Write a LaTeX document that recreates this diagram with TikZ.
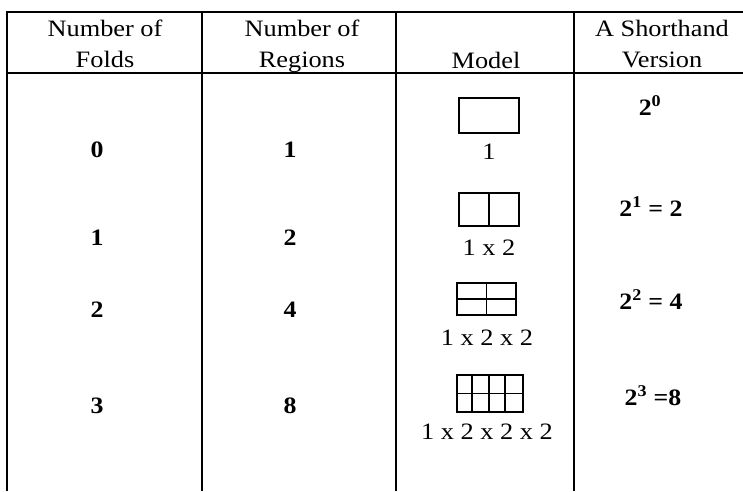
\documentclass[tikz,border=0pt]{standalone}
\usepackage{fontspec}
\setmainfont[FakeStretch=1.12]{Liberation Serif}
\newfontfamily\numfont[FakeStretch=1.1]{Liberation Serif Bold}

\begin{document}
\begin{tikzpicture}[x=1pt,y=-1pt]
      \tikzstyle{rule}=[draw=black,line width=2.6pt];
      \tikzstyle{head}=[align=center,inner sep=0pt,font=\fontsize{23.5}{31}\selectfont];
      \tikzstyle{num}=[inner sep=0pt,font=\numfont\fontsize{23.5}{27}\selectfont];
      \tikzstyle{lab}=[inner sep=0pt,font=\fontsize{23.5}{27}\selectfont];
      \tikzstyle{box}=[draw=black,line width=2.8pt,inner sep=0pt];
      \tikzstyle{split}=[draw=black,line width=1.8pt];

      \useasboundingbox (0,0) rectangle (743,491);

      % table rules
      \path[rule] (743,12) -- (7,12) -- (7,491);
      \path[rule] (7,73) -- (743,73);
      \foreach \x in {202,396,574}
        \path[rule] (\x,12) -- (\x,491);

      % header
      \node[head](hfolds) at (105,45.3) {\strut Number of\\\strut Folds};
      \node[head](hregions) at (302,45.3) {\strut Number of\\\strut Regions};
      \node[head,anchor=base](hmodel) at (486,68) {Model};
      \node[head](hshort) at (662,45.3) {\strut A Shorthand\\\strut Version};

      % folds and regions
      \node[num](f0) at (97,150) {0};
      \node[num](f1) at (97,238) {1};
      \node[num](f2) at (97,310) {2};
      \node[num](f3) at (97,406) {3};
      \node[num](r0) at (290,150) {1};
      \node[num](r1) at (290,238) {2};
      \node[num](r2) at (290,310) {4};
      \node[num](r3) at (290,406) {8};

      % models
      \node[box,minimum width=60pt,minimum height=35pt](m0) at (489,115.5) {};
      \node[box,minimum width=60pt,minimum height=33pt](m1) at (489,209.5) {};
      \node[box,minimum width=59pt,minimum height=32pt](m2) at (486.5,299) {};
      \node[box,minimum width=66pt,minimum height=37pt](m3) at (490,393.5) {};

      \path[split] (m1.north) -- (m1.south);
      \path[split] (m2.north) -- (m2.south);
      \path[split] (m2.west) -- (m2.east);
      \path[split] (m3.west) -- (m3.east);
      \foreach \d in {16.5,33,49.5}
        \path[split] ([xshift=\d pt]m3.north west) -- ([xshift=\d pt]m3.south west);

      \node[lab](l0) at (489,152) {1};
      \node[lab](l1) at (489,248) {1 x 2};
      \node[lab](l2) at (487,338) {1 x 2 x 2};
      \node[lab](l3) at (487,432) {1 x 2 x 2 x 2};

      % shorthand
      \node[num](s0) at (650,106) {2\textsuperscript{0}};
      \node[num](s1) at (651,207) {2\textsuperscript{1} = 2};
      \node[num](s2) at (651,300) {2\textsuperscript{2} = 4};
      \node[num](s3) at (653,396) {2\textsuperscript{3} =8};

    \end{tikzpicture}
\end{document}
